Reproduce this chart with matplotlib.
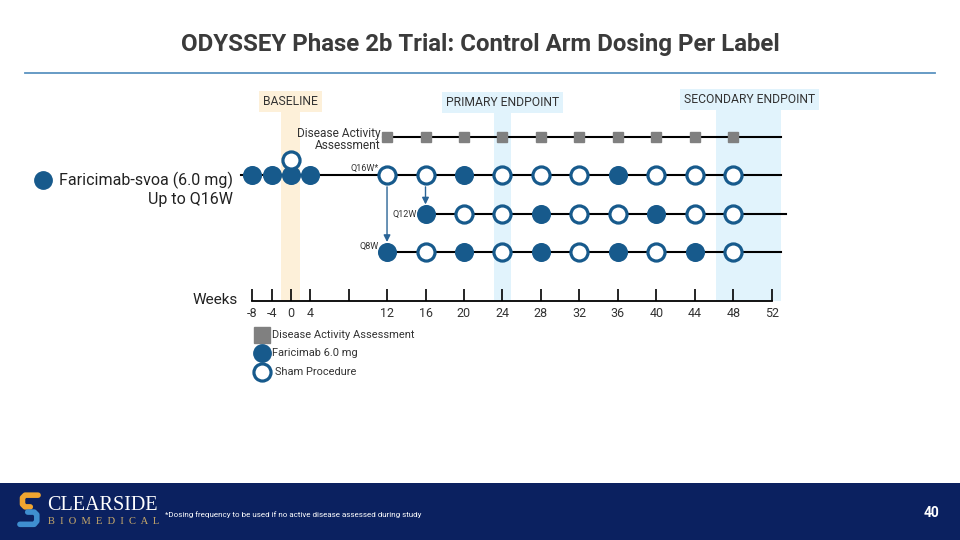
import matplotlib.pyplot as plt
import numpy as np

plt.rcParams['font.family'] = ['Roboto', 'DejaVu Sans']

# ---- data ----
tick_weeks = [-8, -4, 0, 4, 8, 12, 16, 20, 24, 28, 32, 36, 40, 44, 48, 52]
tick_labels = ['-8', '-4', '0', '4', '', '12', '16', '20', '24', '28', '32', '36', '40', '44', '48', '52']

baseline_weeks = [-8, -4, 0, 4]
baseline_sham_week = [0]
assess_weeks = [12, 16, 20, 24, 28, 32, 36, 40, 44, 48]

q16w_weeks = [12, 16, 20, 24, 28, 32, 36, 40, 44, 48]
q16w_dose = [0, 0, 1, 0, 0, 0, 1, 0, 0, 0]   # 1 = faricimab, 0 = sham
q12w_weeks = [16, 20, 24, 28, 32, 36, 40, 44, 48]
q12w_dose = [1, 0, 0, 1, 0, 0, 1, 0, 0]
q8w_weeks = [12, 16, 20, 24, 28, 32, 36, 40, 44, 48]
q8w_dose = [1, 0, 1, 0, 1, 0, 1, 0, 1, 0]

baseline_span = (-2, 2)
primary_span = (23.1, 24.9)
secondary_span = (46.2, 53)

BLUE = '#175a8c'
GRAY = '#808080'
TXT = '#333333'


# weeks before week 4 are drawn at half scale
def fwd(w):
    w = np.asarray(w, dtype=float)
    return np.where(w < 4, 4 + (w - 4) / 2, w)


def inv(s):
    s = np.asarray(s, dtype=float)
    return np.where(s < 4, 4 + (s - 4) * 2, s)


fig = plt.figure(figsize=(9.6, 5.4), dpi=100)

# title + rule
fig.text(0.5, 1 - 45 / 540, 'ODYSSEY Phase 2b Trial: Control Arm Dosing Per Label',
         ha='center', va='center', fontsize=17.3, fontweight='bold', color='#3b3b3b')
fig.add_artist(plt.Line2D([25 / 960, 935 / 960], [1 - 73 / 540] * 2, color='#5b93c0', lw=1.3))

# timeline axes, bottom spine = weeks axis
ax = fig.add_axes([0, 239 / 540, 1, 213 / 540])
ax.set_xscale('function', functions=(fwd, inv))
ax.set_xlim(-60.46, 71.56)
ax.set_ylim(4.28, -1.28)
for s in ['top', 'left', 'right']:
    ax.spines[s].set_visible(False)
ax.spines['bottom'].set_bounds(-8, 52)
ax.spines['bottom'].set_linewidth(1.3)
ax.set_xticks(tick_weeks)
ax.set_xticklabels(tick_labels)
ax.xaxis.set_minor_locator(plt.NullLocator())
ax.tick_params(axis='x', direction='in', length=9, width=1.2, pad=4, labelsize=9, labelcolor=TXT)
ax.set_yticks([])
ax.patch.set_alpha(0)

# shaded windows
ax.axvspan(*baseline_span, ymin=0, ymax=0.911, color='#fdf0d9', lw=0, zorder=0)
ax.axvspan(*primary_span, ymin=0, ymax=0.906, color='#e1f3fc', lw=0, zorder=0)
ax.axvspan(*secondary_span, ymin=0, ymax=0.911, color='#e1f3fc', lw=0, zorder=0)
ax.text(0, -0.94, 'BASELINE', ha='center', va='center', fontsize=8.7, color=TXT,
        bbox=dict(boxstyle='square,pad=0.33', fc='#fdf0d9', ec='none'))
ax.text(24, -0.91, 'PRIMARY ENDPOINT', ha='center', va='center', fontsize=8.7, color=TXT,
        bbox=dict(boxstyle='square,pad=0.33', fc='#e1f3fc', ec='none'))
ax.text(49.7, -0.97, 'SECONDARY ENDPOINT', ha='center', va='center', fontsize=8.7, color=TXT,
        bbox=dict(boxstyle='square,pad=0.33', fc='#e1f3fc', ec='none'))


def dots(weeks, dose, y):
    for w, d in zip(weeks, dose):
        if d:
            ax.plot(w, y, 'o', ms=12.5, mfc=BLUE, mec=BLUE, mew=1.2, zorder=4, clip_on=False)
        else:
            ax.plot(w, y, 'o', ms=12.3, mfc='white', mec=BLUE, mew=2.3, zorder=4, clip_on=False)


# disease activity row
ax.plot([11.6, 53], [0, 0], color='black', lw=1.5, zorder=2)
ax.plot(assess_weeks, [0] * len(assess_weeks), 's', ms=7, color=GRAY, zorder=3)
ax.text(11.3, -0.1, 'Disease Activity', ha='right', va='center', fontsize=8.6, color=TXT)
ax.text(11.3, 0.23, 'Assessment', ha='right', va='center', fontsize=8.6, color=TXT)

# Q16W row (with baseline loading doses)
ax.plot([-10.3, 53], [1, 1], color='black', lw=1.5, zorder=2)
dots(baseline_weeks, [1] * len(baseline_weeks), 1)
dots(baseline_sham_week, [0], 0.6)
dots(q16w_weeks, q16w_dose, 1)
ax.text(11.1, 0.82, 'Q16W*', ha='right', va='center', fontsize=6.5, color=TXT)

# Q12W row
ax.plot([16, 53.5], [2, 2], color='black', lw=1.5, zorder=2)
dots(q12w_weeks, q12w_dose, 2)
ax.text(15.1, 2.01, 'Q12W', ha='right', va='center', fontsize=6.5, color=TXT)

# Q8W row
ax.plot([12, 53], [3, 3], color='black', lw=1.5, zorder=2)
dots(q8w_weeks, q8w_dose, 3)
ax.text(11.1, 2.85, 'Q8W', ha='right', va='center', fontsize=6.5, color=TXT)

# switch arrows
arrow = dict(arrowstyle='-|>', color='#2a6496', lw=1.0, mutation_scale=10, shrinkA=0, shrinkB=0)
ax.annotate('', xy=(12, 2.74), xytext=(12, 1.3), arrowprops=arrow)
ax.annotate('', xy=(16, 1.76), xytext=(16, 1.3), arrowprops=arrow)

# left label
ax.plot(-51.5, 1.12, 'o', ms=12.5, color=BLUE, clip_on=False)
ax.text(-12, 1.12, 'Faricimab-svoa (6.0 mg)', ha='right', va='center', fontsize=11.5, color='#222222')
ax.text(-12, 1.64, 'Up to Q16W', ha='right', va='center', fontsize=11.5, color='#222222')
ax.text(-11, 4.25, 'Weeks', ha='right', va='center', fontsize=11, color='#222222')

# legend
ax.plot(-6, 5.17, 's', ms=11, color=GRAY, clip_on=False)
ax.plot(-6, 5.64, 'o', ms=12.5, mfc=BLUE, mec=BLUE, clip_on=False)
ax.plot(-6, 6.14, 'o', ms=12.3, mfc='white', mec=BLUE, mew=2.3, clip_on=False)
ax.text(-3.9, 5.17, 'Disease Activity Assessment', va='center', fontsize=7.9, color=TXT, clip_on=False)
ax.text(-3.9, 5.64, 'Faricimab 6.0 mg', va='center', fontsize=7.9, color=TXT, clip_on=False)
ax.text(-3.3, 6.14, 'Sham Procedure', va='center', fontsize=7.9, color=TXT, clip_on=False)

# footer band
fig.add_artist(plt.Rectangle((0, 0), 1, 57 / 540, color='#0b2160', lw=0, zorder=0))
logo = fig.add_axes([16 / 960, 1 - 529 / 540, 26 / 960, 38 / 540])
logo.set_zorder(5)
logo.set_xlim(0, 1)
logo.set_ylim(0, 1.46)
logo.axis('off')
logo.plot([0.85, 0.35, 0.25, 0.25, 0.35, 0.55], [1.3, 1.3, 1.2, 0.95, 0.85, 0.85],
          color='#f0a530', lw=4, solid_capstyle='round', solid_joinstyle='round')
logo.plot([0.45, 0.7, 0.8, 0.8, 0.7, 0.15], [0.65, 0.65, 0.55, 0.3, 0.18, 0.18],
          color='#3f8fd0', lw=4, solid_capstyle='round', solid_joinstyle='round')
fig.text(47 / 960, 1 - 505 / 540, 'CLEARSIDE', family=['Liberation Serif', 'DejaVu Serif'],
         fontsize=14.5, color='white', va='center', zorder=5)
fig.text(48 / 960, 1 - 522 / 540, 'B  I  O  M  E  D  I  C  A  L', family=['Liberation Serif', 'DejaVu Serif'],
         fontsize=7.6, color='#c8a96a', va='center', zorder=5)
fig.text(165 / 960, 1 - 515 / 540, '*Dosing frequency to be used if no active disease assessed during study',
         fontsize=5.8, color='white', va='center', zorder=5)
fig.text(932 / 960, 1 - 513 / 540, '40', ha='center', va='center', fontsize=10,
         fontweight='bold', color='white', zorder=5)

fig.savefig('out.png', dpi=100)
